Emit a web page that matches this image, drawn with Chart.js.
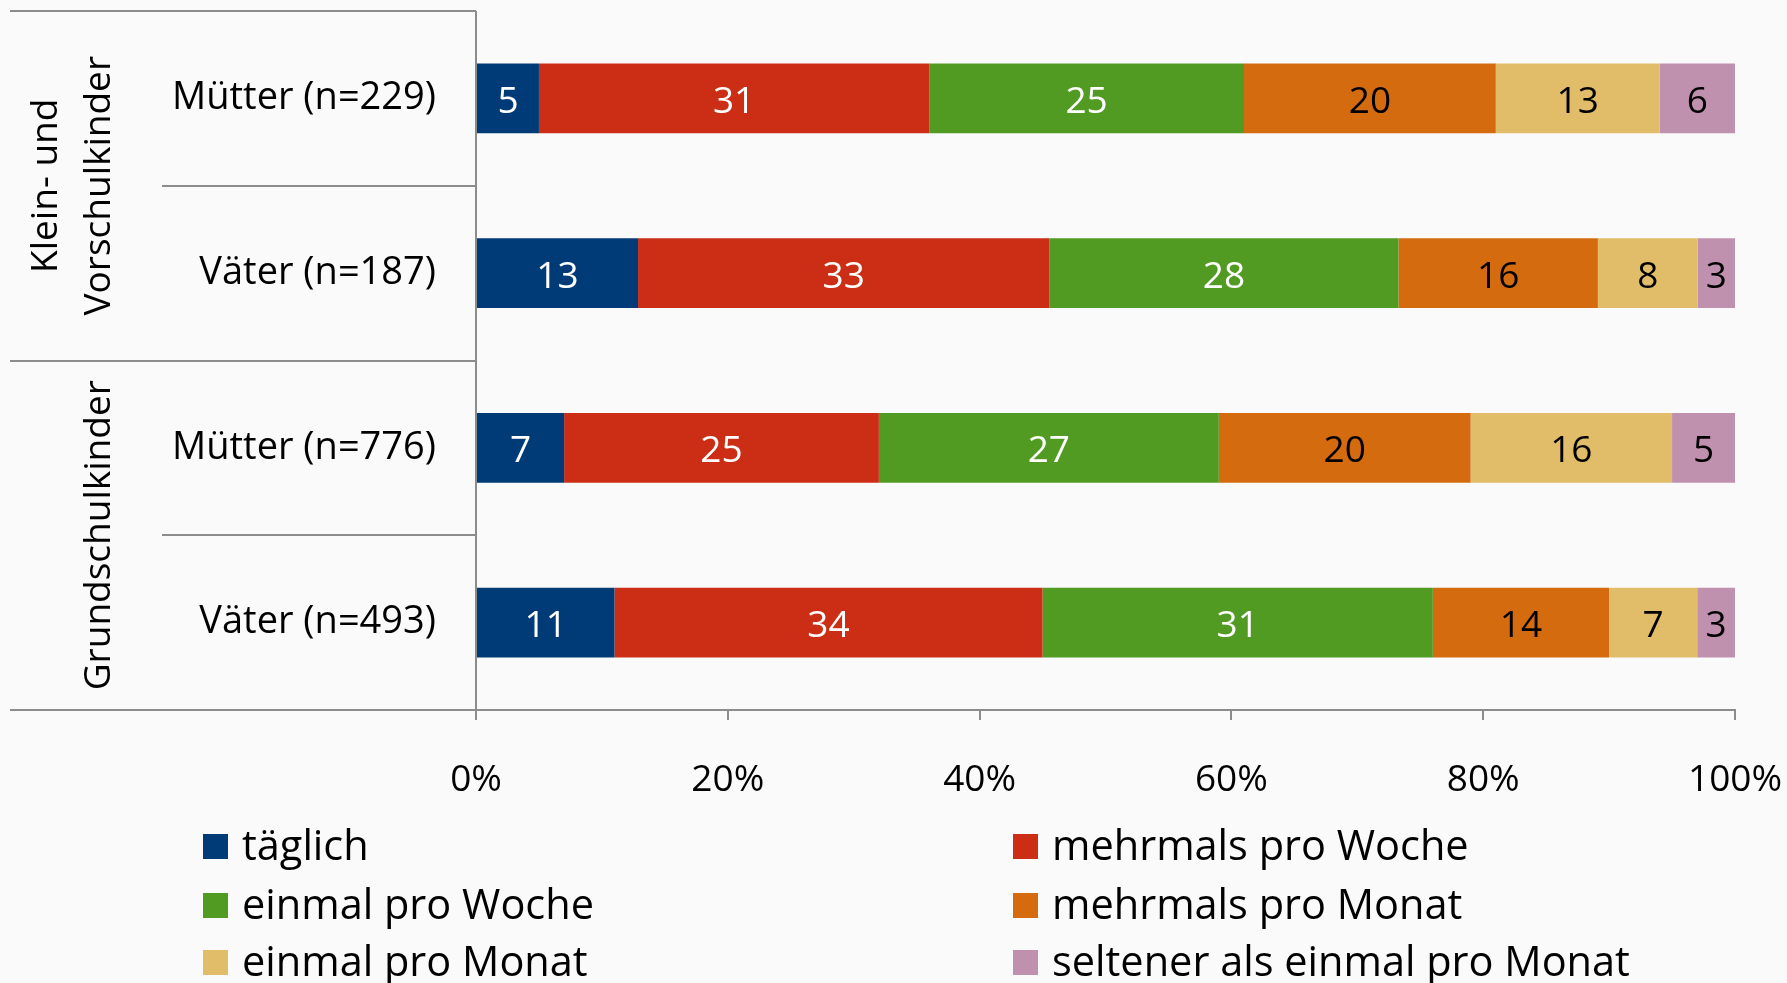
<!DOCTYPE html>
<html>
<head>
<meta charset="utf-8">
<script src="https://cdn.jsdelivr.net/npm/chart.js@4/dist/chart.umd.min.js"></script>
<style>
  html, body { margin: 0; padding: 0; background: #fafafa; }
  #wrap { width: 1787px; height: 983px; }
</style>
</head>
<body>
<div id="wrap"><canvas id="chart" width="1787" height="983"></canvas></div>
<script>
// --- DATA ---
const categories = ["Mütter (n=229)", "Väter (n=187)", "Mütter (n=776)", "Väter (n=493)"];
const groupLabels = [["Klein- und", "Vorschulkinder"], ["Grundschulkinder"]];
const groupSizes = [2, 2];

const seriesNames = [
  "täglich",
  "mehrmals pro Woche",
  "einmal pro Woche",
  "mehrmals pro Monat",
  "einmal pro Monat",
  "seltener als einmal pro Monat",
];
const taeglich = [5, 13, 7, 11];
const mehrmalsProWoche = [31, 33, 25, 34];
const einmalProWoche = [25, 28, 27, 31];
const mehrmalsProMonat = [20, 16, 20, 14];
const einmalProMonat = [13, 8, 16, 7];
const seltener = [6, 3, 5, 3];
const xTicks = [0, 20, 40, 60, 80, 100];

// --- STYLE ---
const seriesColors = ["#013b77", "#cb2d15", "#519b22", "#d46b0f", "#e2bd69", "#c090af"];
const labelColors = ["#ffffff", "#ffffff", "#ffffff", "#000000", "#000000", "#000000"];
const FONT = "'Open Sans', 'DejaVu Sans', sans-serif";
const LINE = "#8c8c8c";

const allSeries = [taeglich, mehrmalsProWoche, einmalProWoche, mehrmalsProMonat, einmalProMonat, seltener];
// Excel draws 100% stacked bars, so each row is scaled to its own total
const totals = categories.map((_, i) => allSeries.reduce((s, arr) => s + arr[i], 0));

const datasets = allSeries.map((values, k) => ({
  label: seriesNames[k],
  raw: values,
  data: values.map((v, i) => (v / totals[i]) * 100),
  backgroundColor: seriesColors[k],
  borderWidth: 0,
  categoryPercentage: 1,
  barPercentage: 0.4,
}));

// no automatic label padding, the layout is set by hand
function noPadding(scale) {
  scale.paddingLeft = 0;
  scale.paddingRight = 0;
  scale.paddingTop = 0;
  scale.paddingBottom = 0;
}

// value labels inside the bars
const barLabels = {
  id: "barLabels",
  afterDatasetsDraw(chart) {
    const ctx = chart.ctx;
    ctx.save();
    ctx.font = `37px ${FONT}`;
    ctx.textAlign = "center";
    ctx.textBaseline = "middle";
    chart.data.datasets.forEach((ds, k) => {
      const meta = chart.getDatasetMeta(k);
      meta.data.forEach((bar, i) => {
        const cx = (bar.x + bar.base) / 2;
        ctx.fillStyle = labelColors[k];
        ctx.fillText(String(ds.raw[i]), cx, bar.y + 4);
      });
    });
    ctx.restore();
  },
};

// multi-level category frame, group labels and legend
const frame = {
  id: "frame",
  afterDraw(chart) {
    const ctx = chart.ctx;
    const y = chart.scales.y;
    const area = chart.chartArea;
    const step = y.getPixelForValue(1) - y.getPixelForValue(0);
    const edge = (i) => y.getPixelForValue(i) - step / 2;

    ctx.save();
    ctx.strokeStyle = LINE;
    ctx.lineWidth = 2;

    // vertical axis line
    ctx.beginPath();
    ctx.moveTo(area.left, area.top);
    ctx.lineTo(area.left, area.bottom + 10);
    ctx.stroke();

    // separators between categories and groups
    let groupStart = 0;
    const groupEdges = [0];
    groupSizes.forEach((n) => { groupStart += n; groupEdges.push(groupStart); });
    for (let i = 0; i <= categories.length; i++) {
      const py = Math.round(edge(i));
      const x0 = groupEdges.includes(i) ? 10 : 162;
      ctx.beginPath();
      ctx.moveTo(x0, py);
      ctx.lineTo(area.left, py);
      ctx.stroke();
    }

    // group labels, rotated
    ctx.fillStyle = "#000";
    ctx.font = `37px ${FONT}`;
    ctx.textAlign = "center";
    ctx.textBaseline = "middle";
    groupLabels.forEach((lines, g) => {
      const cy = (edge(groupEdges[g]) + edge(groupEdges[g + 1])) / 2;
      lines.forEach((text, j) => {
        const cx = 99 - (lines.length - 1 - j) * 53;
        ctx.save();
        ctx.translate(cx, cy);
        ctx.rotate(-Math.PI / 2);
        ctx.fillText(text, 0, 0);
        ctx.restore();
      });
    });

    // legend: two columns, three rows
    ctx.font = `41.5px ${FONT}`;
    ctx.textAlign = "left";
    const colX = [203, 1013];
    const rowY = [846, 905, 962];
    chart.data.datasets.forEach((ds, k) => {
      const bx = colX[k % 2];
      const by = rowY[Math.floor(k / 2)];
      ctx.fillStyle = ds.backgroundColor;
      ctx.fillRect(bx, by - 12, 25, 25);
      ctx.fillStyle = "#000";
      ctx.fillText(ds.label, bx + 39, by + 2);
    });
    ctx.restore();
  },
};

new Chart(document.getElementById("chart"), {
  type: "bar",
  data: { labels: categories, datasets },
  options: {
    indexAxis: "y",
    responsive: false,
    animation: false,
    layout: { padding: { top: 11, right: 52, left: 0, bottom: 0 } },
    plugins: {
      legend: { display: false },
      tooltip: { enabled: false },
    },
    scales: {
      x: {
        stacked: true,
        min: 0,
        max: 100,
        afterBuildTicks: (scale) => { scale.ticks = xTicks.map((v) => ({ value: v })); },
        afterFit: (scale) => { scale.height = 273; noPadding(scale); },
        ticks: {
          callback: (v) => v + "%",
          color: "#000",
          font: { family: FONT, size: 37 },
          padding: 38,
          maxRotation: 0,
        },
        grid: { drawOnChartArea: false, drawTicks: true, tickLength: 10, color: LINE, lineWidth: 2 },
        border: { display: true, color: LINE, width: 2 },
      },
      y: {
        stacked: true,
        afterFit: (scale) => { scale.width = 476; noPadding(scale); },
        ticks: {
          color: "#000",
          font: { family: FONT, size: 38 },
          padding: 32,
        },
        grid: { display: false },
        border: { display: false },
      },
    },
  },
  plugins: [barLabels, frame],
});
</script>
</body>
</html>
